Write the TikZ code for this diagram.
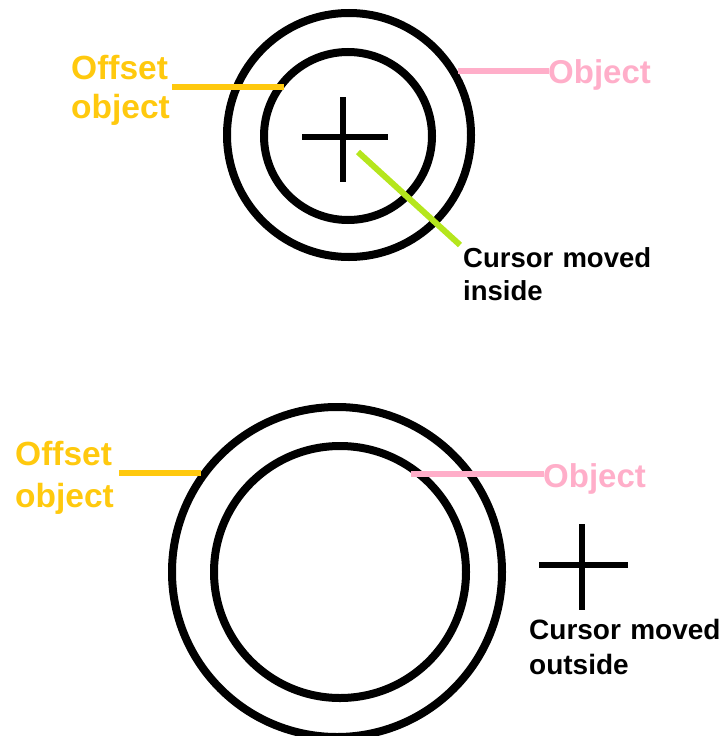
\documentclass[tikz,border=0pt]{standalone}
\usepackage{fontspec}
\setmainfont{Liberation Sans}
\definecolor{gold}{RGB}{255,201,14}
\definecolor{pinkish}{RGB}{255,174,201}
\definecolor{limeg}{RGB}{181,230,29}
\begin{document}
\begin{tikzpicture}[x=1pt,y=-1pt,
  ring/.style={circle,draw=black,line width=8pt,inner sep=0pt,fill=none},
  crossline/.style={draw=black,line width=6pt},
  leader/.style={line width=6pt},
  lbl/.style={anchor=base west,inner sep=0pt,align=left,text width=220pt,font=\bfseries}]
\useasboundingbox (0,0) rectangle (726,736);
% ---------- top ----------
\node[ring,minimum size=244pt] (outerA) at (349,135) {};
\node[ring,minimum size=168pt] (innerA) at (348,136) {};
\coordinate (cAl) at (302,137); \coordinate (cAr) at (388,137);
\coordinate (cAt) at (343,97);  \coordinate (cAb) at (343,182);
\draw[crossline] (cAl) -- (cAr);
\draw[crossline] (cAt) -- (cAb);
\node[lbl,text=gold,font=\bfseries\fontsize{33.5}{39}\selectfont] (offA) at (71,79) {Offset\\object};
\coordinate (offAs) at (172,87); \coordinate (offAe) at (284,87);
\draw[leader,gold] (offAs) -- (offAe);
\node[lbl,text=pinkish,font=\bfseries\fontsize{33}{39}\selectfont] (objA) at (548,83) {Object};
\coordinate (objAs) at (458,71); \coordinate (objAe) at (549,71);
\draw[leader,pinkish] (objAs) -- (objAe);
\node[lbl,text=black,font=\bfseries\fontsize{27.5}{33}\selectfont] (curA) at (463,267) {Cursor moved\\inside};
\coordinate (curAs) at (358,152); \coordinate (curAe) at (460,245);
\draw[leader,limeg] (curAs) -- (curAe);
% ---------- bottom ----------
\node[ring,minimum size=330pt] (outerB) at (337,572) {};
\node[ring,minimum size=252pt] (innerB) at (340,572) {};
\coordinate (cBl) at (539,565); \coordinate (cBr) at (628,565);
\coordinate (cBt) at (582,524); \coordinate (cBb) at (582,610);
\draw[crossline] (cBl) -- (cBr);
\draw[crossline] (cBt) -- (cBb);
\node[lbl,text=gold,font=\bfseries\fontsize{33.5}{42}\selectfont] (offB) at (15,465) {Offset\\object};
\coordinate (offBs) at (119,473); \coordinate (offBe) at (201,473);
\draw[leader,gold] (offBs) -- (offBe);
\node[lbl,text=pinkish,font=\bfseries\fontsize{33}{39}\selectfont] (objB) at (543,487) {Object};
\coordinate (objBs) at (411,474); \coordinate (objBe) at (544,474);
\draw[leader,pinkish] (objBs) -- (objBe);
\node[lbl,text=black,font=\bfseries\fontsize{28}{35}\selectfont] (curB) at (529,639) {Cursor moved\\outside};
\end{tikzpicture}
\end{document}
